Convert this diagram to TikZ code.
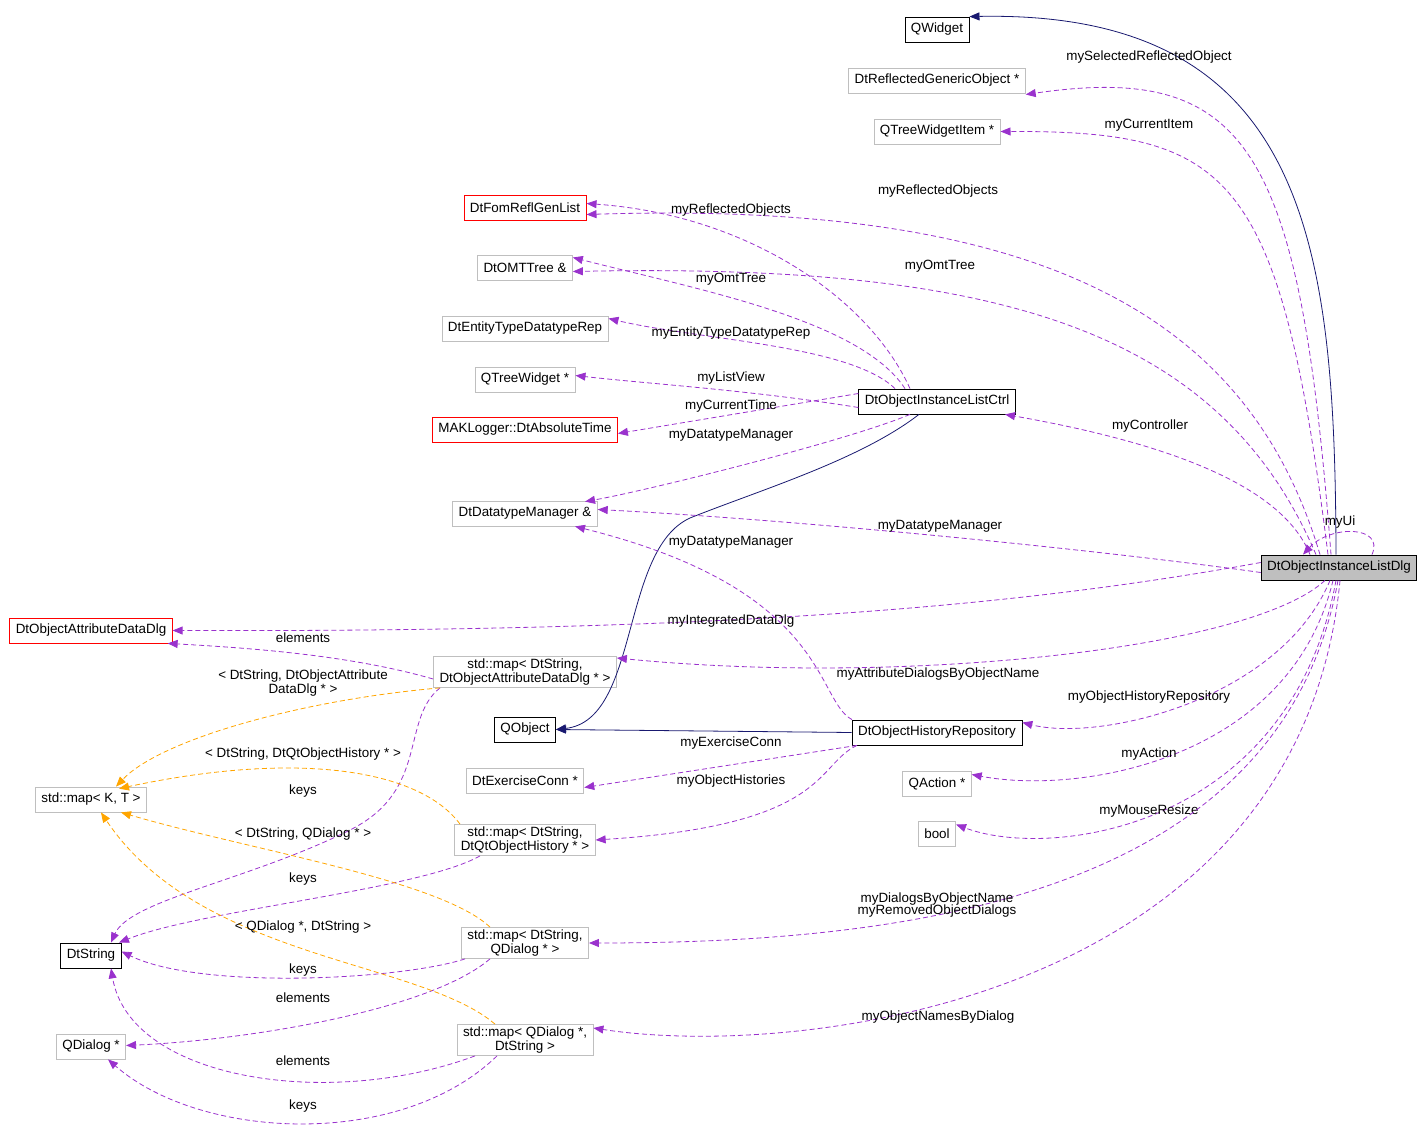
\documentclass[tikz,border=0pt]{standalone}
\usepackage{fontspec}
\setmainfont{Liberation Sans}
\usetikzlibrary{arrows.meta}
\definecolor{pur}{HTML}{9A32CD}
\definecolor{org}{HTML}{FFA500}
\definecolor{nav}{HTML}{191970}
\definecolor{gry}{HTML}{BFBFBF}
\begin{document}
\begin{tikzpicture}[x=1pt,y=-1pt,
  font=\fontsize{13.4}{14.5}\selectfont,
  box/.style={draw=gry,fill=white,minimum height=25pt,inner xsep=6pt,inner ysep=2pt,align=center,line width=0.8pt},
  bbox/.style={box,draw=black},
  rbox/.style={box,draw=red},
  rel/.style={pur,dashed,line width=0.8pt,dash pattern=on 5pt off 3pt,-{Triangle[length=10pt,width=8pt]}},
  tpl/.style={rel,org},
  inh/.style={nav,line width=0.8pt,-{Triangle[length=10pt,width=8pt]}},
  lab/.style={inner sep=1pt,align=center}]
\useasboundingbox (0,0) rectangle (1427,1139);
% nodes
\node[bbox] (QWidget) at (937,29.5) {QWidget};
\node[box] (RGO) at (937,80.5) {DtReflectedGenericObject *};
\node[box] (QTWI) at (937,131.5) {QTreeWidgetItem *};
\node[rbox] (Fom) at (525,207.5) {DtFomReflGenList};
\node[box] (Omt) at (525,267.5) {DtOMTTree \&};
\node[box] (ETDR) at (525,328.5) {DtEntityTypeDatatypeRep};
\node[box] (QTW) at (525,379.5) {QTreeWidget *};
\node[rbox] (MAK) at (525,429.5) {MAKLogger::DtAbsoluteTime};
\node[bbox] (Ctrl) at (937,401.5) {DtObjectInstanceListCtrl};
\node[box] (DTM) at (525,513.5) {DtDatatypeManager \&};
\node[bbox,fill=gry] (Dlg) at (1339,567.5) {DtObjectInstanceListDlg};
\node[rbox] (OADD) at (91,630.5) {DtObjectAttributeDataDlg};
\node[box] (M1) at (525,672) {std::map< DtString,\\DtObjectAttributeDataDlg * >};
\node[bbox] (QObject) at (525,729.5) {QObject};
\node[bbox] (Hist) at (937,732.5) {DtObjectHistoryRepository};
\node[box] (ExC) at (525,780.5) {DtExerciseConn *};
\node[box] (QAct) at (937,783.5) {QAction *};
\node[box] (MKT) at (91,799.5) {std::map< K, T >};
\node[box] (M2) at (525,840) {std::map< DtString,\\DtQtObjectHistory * >};
\node[box] (Bool) at (937,833.5) {bool};
\node[bbox] (DtStr) at (91,955.5) {DtString};
\node[box] (M3) at (525,943) {std::map< DtString,\\QDialog * >};
\node[box] (QDlg) at (91,1046.5) {QDialog *};
\node[box] (M4) at (525,1040) {std::map< QDialog *,\\DtString >};
% inheritance
\draw[inh] ([xshift=-3pt]Dlg.north) .. controls (1335,250) and (1310,10) .. (QWidget.north east);
\coordinate (c0) at ([xshift=-18pt]Ctrl.south);
\draw[inh] (c0) .. controls (860,460) and (760,490) .. (690,518) .. controls (620,550) and (640,720) .. (QObject.east);
\draw[inh] (Hist.west) -- (QObject.east);
% Dlg relations
\draw[rel] ([xshift=-8pt]Dlg.north) .. controls (1300,150) and (1250,62) .. ([yshift=-14pt]RGO.east);
\node[lab] (l1) at (1149,57) {mySelectedReflectedObject};
\draw[rel] ([xshift=-11pt]Dlg.north) .. controls (1280,170) and (1230,131) .. (QTWI.east);
\node[lab] (l2) at (1149,125) {myCurrentItem};
\draw[rel] ([xshift=-19pt]Dlg.north) .. controls (1250,320) and (1050,200) .. ([yshift=-7pt]Fom.east);
\node[lab] (l3) at (938,191) {myReflectedObjects};
\draw[rel] ([xshift=-23pt]Dlg.north) .. controls (1220,330) and (1000,263) .. ([yshift=-4pt]Omt.east);
\node[lab] (l4) at (940,266) {myOmtTree};
\draw[rel] ([xshift=-29pt]Dlg.north) .. controls (1280,480) and (1150,440) .. ([xshift=68pt]Ctrl.south);
\node[lab] (l5) at (1150,426) {myController};
\draw[rel] ([xshift=33pt]Dlg.north) .. controls (1385,525) and (1330,525) .. ([xshift=-36pt]Dlg.north);
\node[lab] (l6) at (1340,522) {myUi};
\draw[rel] ([yshift=-5pt]Dlg.west) .. controls (1100,550) and (800,520) .. ([yshift=4pt]DTM.east);
\node[lab] (l7) at (940,526) {myDatatypeManager};
\draw[rel] ([yshift=5pt]Dlg.west) .. controls (1000,610) and (700,632) .. (OADD.east);
\node[lab] (l8) at (731,621) {myIntegratedDataDlg};
\draw[rel] ([xshift=-14pt]Dlg.south) .. controls (1250,650) and (900,686) .. ([yshift=14pt]M1.east);
\node[lab] (l9) at (938,674) {myAttributeDialogsByObjectName};
\draw[rel] ([xshift=-9pt]Dlg.south) .. controls (1280,700) and (1100,742) .. ([yshift=10pt]Hist.east);
\node[lab] (l10) at (1149,697) {myObjectHistoryRepository};
\draw[rel] ([xshift=-6pt]Dlg.south) .. controls (1290,760) and (1080,795) .. ([yshift=9pt]QAct.east);
\node[lab] (l11) at (1149,754) {myAction};
\draw[rel] ([xshift=-3pt]Dlg.south) .. controls (1290,830) and (1050,860) .. ([yshift=9pt]Bool.east);
\node[lab] (l12) at (1149,811) {myMouseResize};
\draw[rel] ([xshift=-1pt]Dlg.south) .. controls (1280,900) and (900,943) .. (M3.east);
\node[lab] (l13) at (937,905) {myDialogsByObjectName\\[-2pt]myRemovedObjectDialogs};
\draw[rel] ([xshift=1pt]Dlg.south) .. controls (1300,1000) and (800,1060) .. ([yshift=12pt]M4.east);
\node[lab] (l14) at (938,1017) {myObjectNamesByDialog};
% Ctrl relations
\draw[rel] ([xshift=-27pt]Ctrl.north) .. controls (870,300) and (750,215) .. ([yshift=4pt]Fom.east);
\node[lab] (l15) at (731,210) {myReflectedObjects};
\draw[rel] ([xshift=-32pt]Ctrl.north) .. controls (860,320) and (700,290) .. ([yshift=10pt]Omt.east);
\node[lab] (l16) at (731,279) {myOmtTree};
\draw[rel] ([xshift=-42pt]Ctrl.north) .. controls (850,345) and (700,340) .. ([yshift=10pt]ETDR.east);
\node[lab] (l17) at (731,333) {myEntityTypeDatatypeRep};
\draw[rel] ([yshift=-6pt]Ctrl.west) .. controls (750,390) and (650,384) .. ([yshift=4pt]QTW.east);
\node[lab] (l18) at (731,378) {myListView};
\draw[rel] ([yshift=8pt]Ctrl.west) -- ([yshift=-4pt]MAK.east);
\node[lab] (l19) at (731,406) {myCurrentTime};
\draw[rel] ([xshift=-27pt]Ctrl.south) .. controls (850,440) and (650,490) .. ([xshift=60pt,yshift=-1pt]DTM.north);
\node[lab] (l20) at (731,435) {myDatatypeManager};
% Hist relations
\draw[rel] ([xshift=-85pt]Hist.north) .. controls (815,700) and (830,590) .. ([xshift=50pt]DTM.south);
\node[lab] (l21) at (731,542) {myDatatypeManager};
\draw[rel] ([xshift=-80pt]Hist.south) -- ([yshift=-7pt]ExC.east);
\node[lab] (l22) at (731,743) {myExerciseConn};
\draw[rel] ([xshift=-80pt]Hist.south) .. controls (815,765) and (830,825) .. (M2.east);
\node[lab] (l23) at (731,781) {myObjectHistories};
% map relations
\draw[rel] ([yshift=-7pt]M1.west) .. controls (350,655) and (250,648) .. ([xshift=-5pt]OADD.south east);
\node[lab] (l24) at (303,638) {elements};
\draw[rel] ([xshift=-85pt]M1.south) .. controls (400,720) and (430,790) .. (350,830) .. controls (250,880) and (130,900) .. ([xshift=20pt]DtStr.north);
\node[lab] (l25) at (303,791) {keys};
\draw[tpl] ([xshift=-85pt]M1.south) .. controls (300,700) and (160,740) .. ([xshift=25pt]MKT.north);
\node[lab] (l26) at (303,683) {< DtString, DtObjectAttribute\\DataDlg * >};
\draw[tpl] ([xshift=-65pt]M2.north) .. controls (420,770) and (300,750) .. ([xshift=28pt,yshift=-2pt]MKT.north);
\node[lab] (l27) at (303,754) {< DtString, DtQtObjectHistory * >};
\draw[rel] ([xshift=-45pt]M2.south) .. controls (420,890) and (200,910) .. ([xshift=28pt]DtStr.north);
\node[lab] (l28) at (303,879) {keys};
\draw[tpl] ([xshift=-35pt]M3.north) .. controls (440,880) and (250,850) .. ([xshift=30pt]MKT.south);
\node[lab] (l29) at (303,834) {< DtString, QDialog * >};
\draw[rel] ([xshift=-60pt]M3.south) .. controls (400,980) and (200,990) .. ([yshift=4pt]DtStr.east);
\node[lab] (l30) at (303,970) {keys};
\draw[rel] ([xshift=-35pt]M3.south) .. controls (430,1010) and (250,1040) .. ([yshift=1pt]QDlg.east);
\node[lab] (l31) at (303,998) {elements};
\draw[tpl] ([xshift=-30pt]M4.north) .. controls (420,960) and (200,960) .. ([xshift=10pt]MKT.south);
\node[lab] (l32) at (303,927) {< QDialog *, DtString >};
\draw[rel] ([xshift=-50pt]M4.south) .. controls (330,1110) and (130,1080) .. ([xshift=20pt]DtStr.south);
\node[lab] (l33) at (303,1061) {elements};
\draw[rel] ([xshift=-28pt]M4.south) .. controls (400,1150) and (200,1140) .. ([xshift=17pt]QDlg.south);
\node[lab] (l34) at (303,1106) {keys};
\end{tikzpicture}
\end{document}
